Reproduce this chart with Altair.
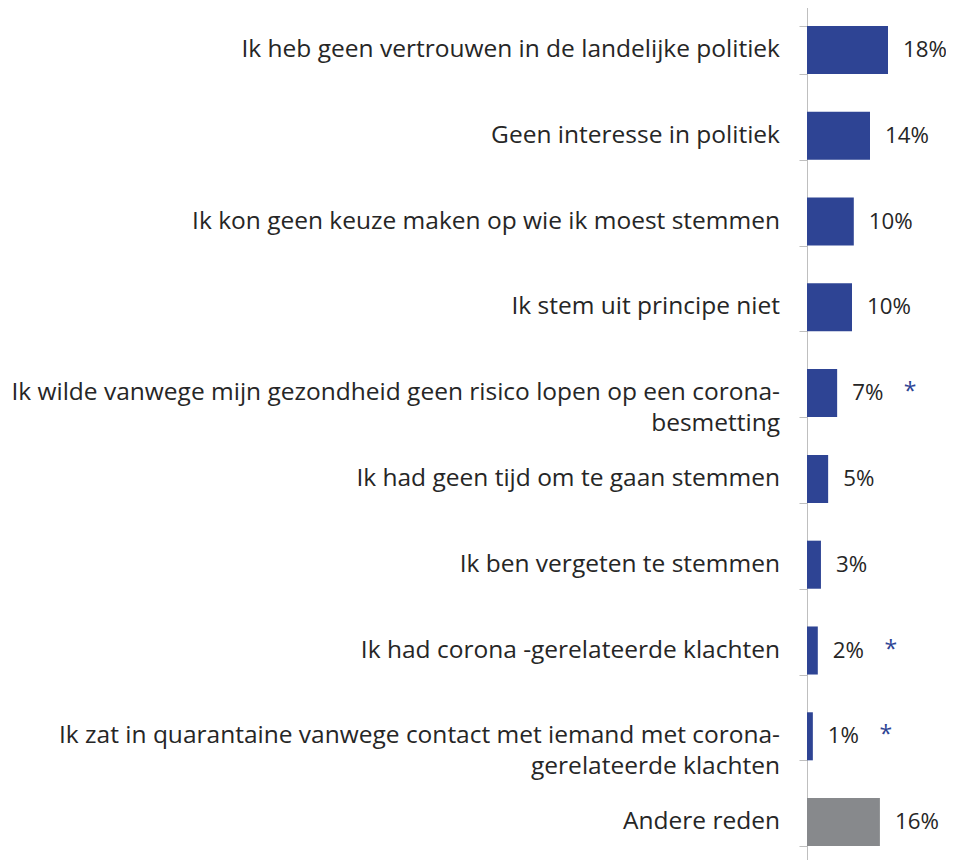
import altair as alt
import pandas as pd

categories = [
    "Ik heb geen vertrouwen in de landelijke politiek",
    "Geen interesse in politiek",
    "Ik kon geen keuze maken op wie ik moest stemmen",
    "Ik stem uit principe niet",
    "Ik wilde vanwege mijn gezondheid geen risico lopen op een corona-\nbesmetting",
    "Ik had geen tijd om te gaan stemmen",
    "Ik ben vergeten te stemmen",
    "Ik had corona -gerelateerde klachten",
    "Ik zat in quarantaine vanwege contact met iemand met corona-\ngerelateerde klachten",
    "Andere reden",
]
values = [18.0, 14.0, 10.4, 10.0, 6.7, 4.7, 3.1, 2.4, 1.3, 16.2]
value_labels = ["18%", "14%", "10%", "10%", "7%", "5%", "3%", "2%", "1%", "16%"]
significant = [False, False, False, False, True, False, False, True, True, False]
groups = ["main"] * 9 + ["other"]

df = pd.DataFrame({
    "cat": categories,
    "value": values,
    "pct": value_labels,
    "sig": significant,
    "group": groups,
})

FONT = "Open Sans"
TXT = "#262626"
BLUE = "#2E4494"

y_enc = alt.Y(
    "cat:N",
    sort=None,
    scale=alt.Scale(paddingInner=0.44, paddingOuter=0.22),
    axis=alt.Axis(
        title=None,
        labels=False,
        tickBand="extent",
        tickSize=8,
        tickColor="#BFBFBF",
        domainColor="#BFBFBF",
        grid=False,
    ),
)
x_enc = alt.X("value:Q", scale=alt.Scale(domain=[0, 30.889], nice=False), axis=None)

base = alt.Chart(df)

bars = base.mark_bar().encode(
    y=y_enc,
    x=x_enc,
    color=alt.Color(
        "group:N",
        scale=alt.Scale(domain=["main", "other"], range=[BLUE, "#87898C"]),
        legend=None,
    ),
)

cat_labels = base.mark_text(
    align="right", baseline="middle", lineBreak="\n", lineHeight=31,
    fontSize=24.5, font=FONT, color=TXT,
).encode(y=alt.Y("cat:N", sort=None), x=alt.value(-27), text="cat:N")

pct_labels = base.mark_text(
    align="left", baseline="middle", dx=15, fontSize=22.3, font=FONT, color=TXT,
).encode(y=alt.Y("cat:N", sort=None), x="value:Q", text="pct:N")

stars = base.transform_filter("datum.sig").mark_text(
    align="center", baseline="middle", dx=73, dy=-1, fontSize=23,
    font=FONT, color=BLUE, text="*",
).encode(y=alt.Y("cat:N", sort=None), x="value:Q")

chart = alt.layer(bars, cat_labels, pct_labels, stars).properties(
    width=139,
    height=858,
    autosize=alt.AutoSizeParams(type="none"),
    padding={"left": 799, "top": -1, "right": 0, "bottom": 0},
).configure_view(stroke=None).configure(background="white")

chart.save("out.html", embed_options={"renderer": "svg", "actions": False})
